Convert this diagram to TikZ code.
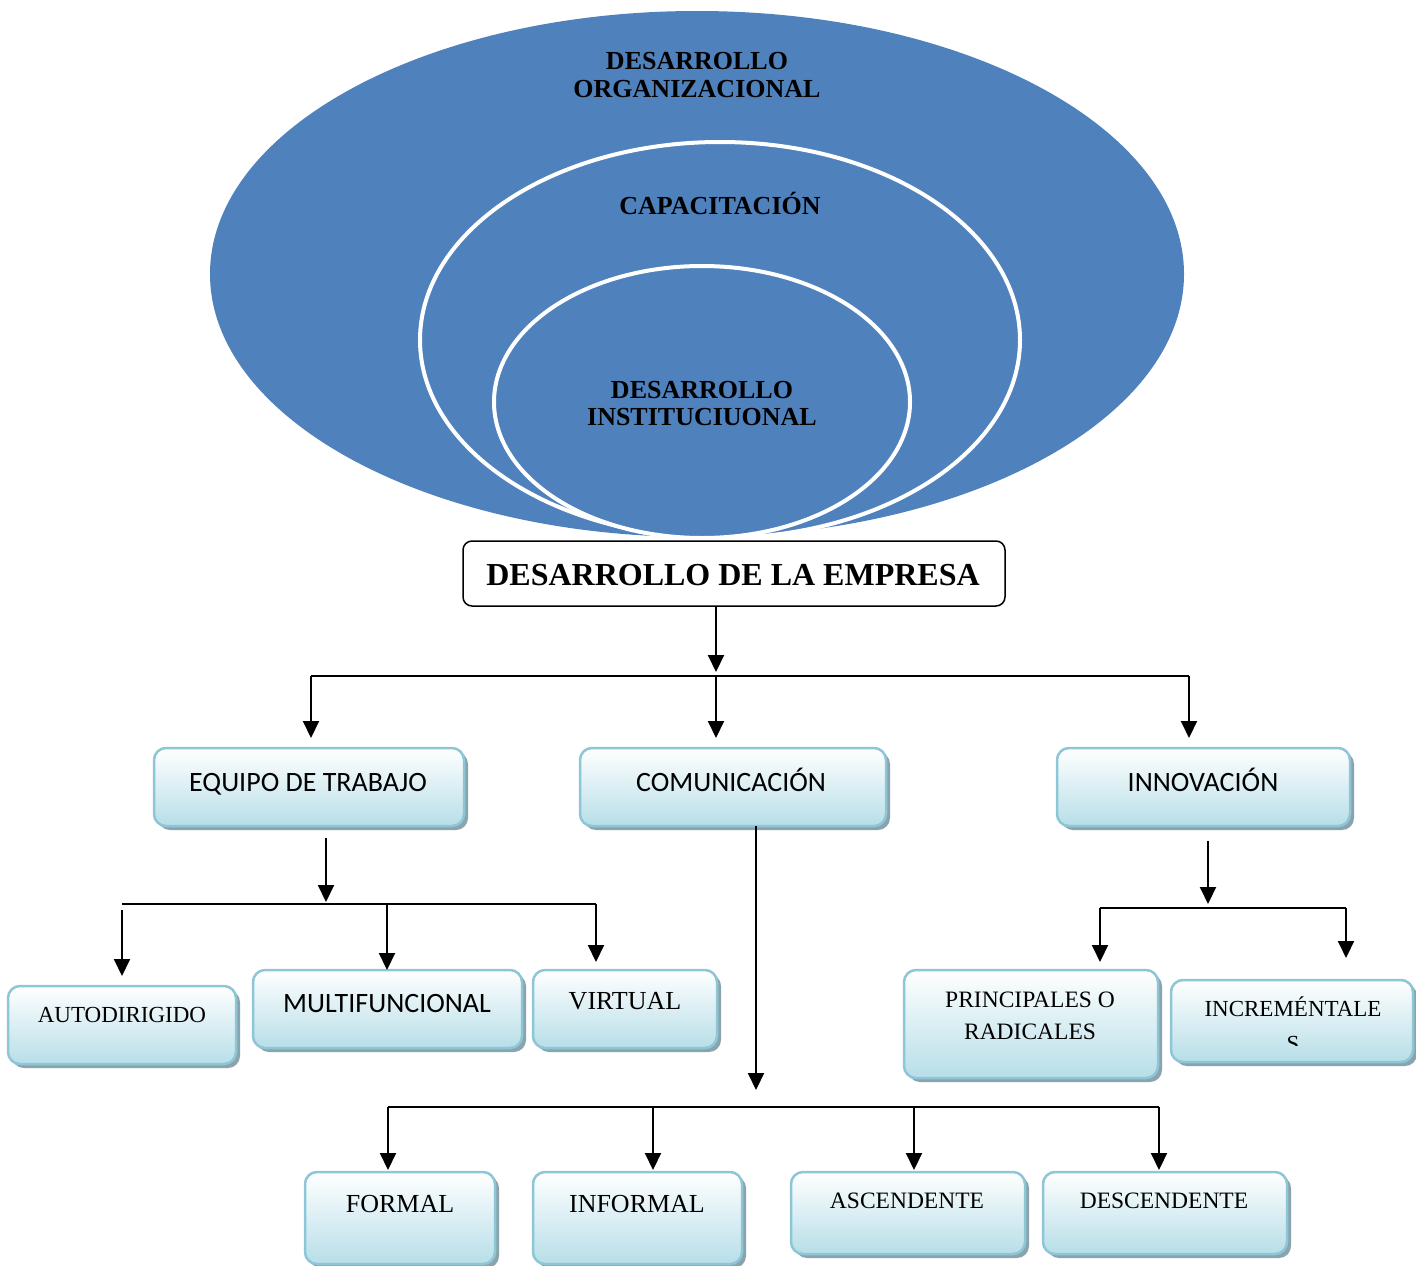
\documentclass[tikz,border=0pt]{standalone}
\usepackage{fontspec}
\setmainfont{Liberation Serif}
\newfontfamily\calib{Carlito}
\usetikzlibrary{arrows.meta,shadows}
\definecolor{orgblue}{HTML}{4F81BD}
\definecolor{boxedge}{HTML}{8DC6D6}
\definecolor{boxlow}{HTML}{B7DEE8}
\definecolor{boxshade}{HTML}{8AA3AD}
\begin{document}
\begin{tikzpicture}[x=1pt,y=-1pt,
  conn/.style={line width=2pt},
  arr/.style={line width=2pt,-{Triangle[length=17pt,width=16pt]}},
  cbox/.style={rounded corners=12pt, draw=boxedge, line width=2.5pt,
    top color=white, bottom color=boxlow,
    general shadow={fill=boxshade, shadow xshift=4pt, shadow yshift=-4pt},
    inner sep=0pt, outer sep=0pt},
  mainbox/.style={rounded corners=9pt, draw=black, line width=1.5pt, fill=white,
    inner sep=0pt, outer sep=0pt},
  ringtxt/.style={anchor=base, inner sep=0pt, font=\fontsize{26}{28}\selectfont\bfseries},
  sanstxt/.style={anchor=base, inner sep=0pt, font=\calib\fontsize{28}{30}\selectfont},
  sertxt/.style={anchor=base, inner sep=0pt, font=\fontsize{26}{28}\selectfont},
  smalltxt/.style={anchor=base, inner sep=0pt, font=\fontsize{23.5}{26}\selectfont}
]
\useasboundingbox (0,0) rectangle (1416,1266);

% nested rings
\fill[orgblue] (697,274) ellipse [x radius=487pt, y radius=263pt];
\draw[white, line width=4pt, fill=orgblue] (720,340) ellipse [x radius=300pt, y radius=198pt];
\draw[white, line width=4pt, fill=orgblue] (702,402) ellipse [x radius=208pt, y radius=136pt];

\node[ringtxt] (t1a) at (697,69) {DESARROLLO};
\node[ringtxt] (t1b) at (697,97) {ORGANIZACIONAL};
\node[ringtxt] (t2) at (720,214) {CAPACITACIÓN};
\node[ringtxt] (t3a) at (702,398) {DESARROLLO};
\node[ringtxt] (t3b) at (702,425) {INSTITUCIUONAL};

% root
\node[mainbox, minimum width=542pt, minimum height=65pt] (main) at (734,573.5) {};
\node[anchor=base, inner sep=0pt, font=\fontsize{32}{34}\selectfont\bfseries] (maint) at (733,585) {DESARROLLO DE LA EMPRESA};

% second level
\node[cbox, minimum width=310pt, minimum height=78pt] (eq) at (309,787) {};
\node[cbox, minimum width=306pt, minimum height=78pt] (com) at (733,787) {};
\node[cbox, minimum width=293pt, minimum height=78pt] (inn) at (1203.5,787) {};
\node[sanstxt] at (308,791) {EQUIPO DE TRABAJO};
\node[sanstxt] at (731,791) {COMUNICACIÓN};
\node[sanstxt] at (1203,791) {INNOVACIÓN};

% team types
\node[cbox, minimum width=228pt, minimum height=78pt] (auto) at (122,1025) {};
\node[cbox, minimum width=269pt, minimum height=78pt] (multi) at (387.5,1009) {};
\node[cbox, minimum width=184pt, minimum height=78pt] (virt) at (625,1009) {};
\node[font=\fontsize{23}{25}\selectfont, anchor=base, inner sep=0pt] at (122,1022) {AUTODIRIGIDO};
\node[sanstxt] at (387,1012) {MULTIFUNCIONAL};
\node[sertxt] at (625,1009) {VIRTUAL};

% innovation types
\node[cbox, minimum width=254pt, minimum height=108pt] (prin) at (1031,1024) {};
\node[cbox, minimum width=242pt, minimum height=82pt] (incr) at (1292,1021) {};
\node[smalltxt] at (1030,1007) {PRINCIPALES O};
\node[smalltxt] at (1030,1039) {RADICALES};
\node[font=\fontsize{23}{25}\selectfont, anchor=base, inner sep=0pt] at (1293,1016) {INCREMÉNTALE};
\begin{scope}
  \clip (1171,1020) rectangle (1413,1045);
  \node[font=\fontsize{23}{25}\selectfont, anchor=base, inner sep=0pt] at (1293,1051) {S};
\end{scope}

% communication types
\node[cbox, minimum width=190pt, minimum height=92pt] (formal) at (400,1218) {};
\node[cbox, minimum width=209pt, minimum height=92pt] (inform) at (637.5,1218) {};
\node[cbox, minimum width=234pt, minimum height=82pt] (asc) at (908,1213) {};
\node[cbox, minimum width=244pt, minimum height=82pt] (desc) at (1165,1213) {};
\node[sertxt] at (400,1212) {FORMAL};
\node[sertxt] at (637,1212) {INFORMAL};
\node[smalltxt] at (907,1208) {ASCENDENTE};
\node[smalltxt] at (1164,1208) {DESCENDENTE};

% connectors: root to second level
\coordinate (b1l) at (311,676);
\coordinate (b1m) at (716,676);
\coordinate (b1r) at (1189,676);
\draw[arr] (main.south -| b1m) -- ([yshift=4pt]b1m);
\draw[conn] (b1l) -- (b1r);
\draw[arr, shorten >=10pt] (b1l) -- (b1l |- eq.north);
\draw[arr, shorten >=10pt] (b1m) -- (b1m |- com.north);
\draw[arr, shorten >=10pt] (b1r) -- (b1r |- inn.north);

% team branch
\coordinate (b2) at (326,904);
\coordinate (b2l) at (122,904);
\coordinate (b2m) at (387,904);
\coordinate (b2r) at (596,904);
\draw[arr] ([yshift=-12pt]eq.south -| b2) -- ([yshift=2pt]b2);
\draw[conn] (b2l) -- (b2r);
\draw[arr, shorten >=10pt] ([yshift=-6pt]b2l) -- (b2l |- auto.north);
\draw[arr, shorten >=0pt] (b2m) -- (b2m |- multi.north);
\draw[arr, shorten >=8pt] (b2r) -- (b2r |- virt.north);

% communication branch
\coordinate (b3) at (756,1107);
\coordinate (b3a) at (388,1107);
\coordinate (b3b) at (653,1107);
\coordinate (b3c) at (914,1107);
\coordinate (b3d) at (1159,1107);
\draw[arr] (com.south -| b3) -- ([yshift=17pt]b3);
\draw[conn] (b3a) -- (b3d);
\draw[arr, shorten >=2pt] (b3a) -- (b3a |- formal.north);
\draw[arr, shorten >=2pt] (b3b) -- (b3b |- inform.north);
\draw[arr, shorten >=2pt] (b3c) -- (b3c |- asc.north);
\draw[arr, shorten >=2pt] (b3d) -- (b3d |- desc.north);

% innovation branch
\coordinate (b4) at (1208,908);
\coordinate (b4l) at (1100,908);
\coordinate (b4r) at (1346,908);
\draw[arr] ([yshift=-15pt]inn.south -| b4) -- ([yshift=4pt]b4);
\draw[conn] (b4l) -- (b4r);
\draw[arr, shorten >=8pt] (b4l) -- (b4l |- prin.north);
\draw[arr, shorten >=22pt] (b4r) -- (b4r |- incr.north);
\end{tikzpicture}
\end{document}
